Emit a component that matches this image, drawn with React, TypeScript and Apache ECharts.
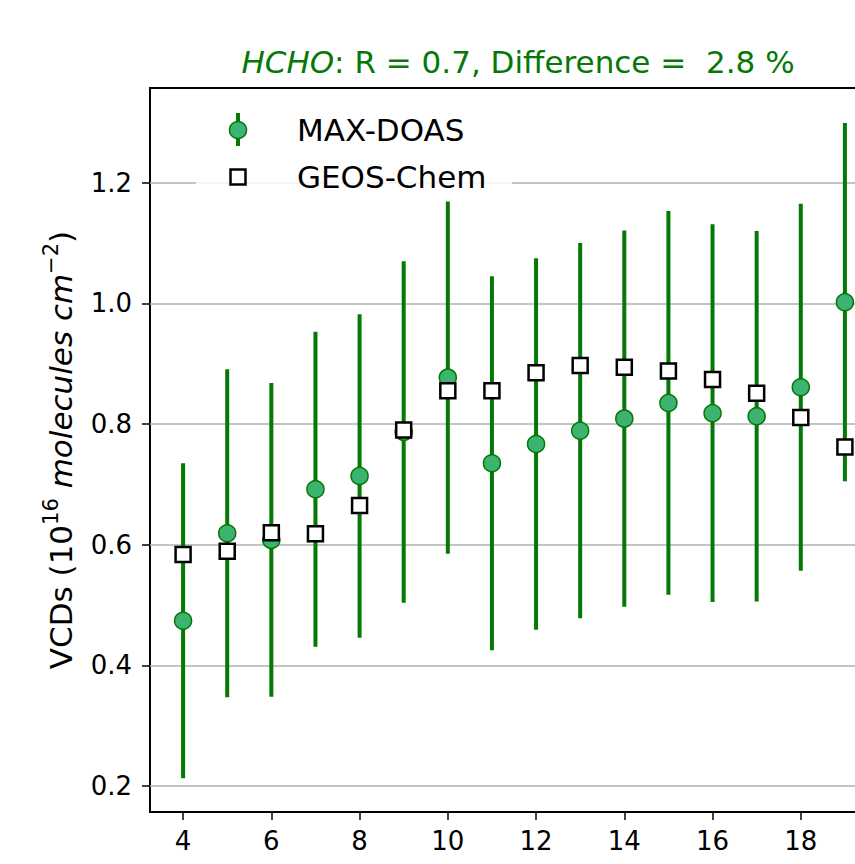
import React, { useEffect, useRef } from "react";
import * as echarts from "echarts";

// Hour of day
const hours = [4, 5, 6, 7, 8, 9, 10, 11, 12, 13, 14, 15, 16, 17, 18, 19];
// MAX-DOAS HCHO VCD means and standard deviations (10^16 molecules cm^-2)
const maxDoasMean = [0.474, 0.619, 0.608, 0.692, 0.714, 0.787, 0.877, 0.735, 0.767, 0.789, 0.809, 0.835, 0.818, 0.813, 0.861, 1.002];
const maxDoasStd = [0.261, 0.272, 0.26, 0.261, 0.268, 0.283, 0.292, 0.31, 0.308, 0.311, 0.312, 0.318, 0.313, 0.307, 0.304, 0.297];
// GEOS-Chem simulated HCHO VCDs
const geosChem = [0.584, 0.589, 0.62, 0.618, 0.665, 0.79, 0.855, 0.855, 0.885, 0.897, 0.894, 0.888, 0.874, 0.851, 0.811, 0.762];

const xTicks = [4, 6, 8, 10, 12, 14, 16, 18];
const yTicks = [0.2, 0.4, 0.6, 0.8, 1.0, 1.2];

const FONT = "DejaVu Sans";
const GREEN = "#057805";
const FILL = "#3cb371";

export default function App() {
  const ref = useRef<HTMLDivElement>(null);

  useEffect(() => {
    const chart = echarts.init(ref.current!, null, { renderer: "svg" });

    const errorData = hours.map((h, i) => [h, maxDoasMean[i] - maxDoasStd[i], maxDoasMean[i] + maxDoasStd[i]]);

    const option: any = {
      animation: false,
      backgroundColor: "#fff",
      textStyle: { fontFamily: FONT },
      title: {
        text: "{it|HCHO}{n|: R = 0.7, Difference = \u00a02.8 %}",
        left: 513,
        top: 41,
        textAlign: "center",
        textStyle: {
          fontFamily: FONT,
          fontSize: 31,
          fontWeight: "normal",
          color: GREEN,
          rich: {
            it: { fontFamily: FONT, fontSize: 31, fontStyle: "italic", color: GREEN },
            n: { fontFamily: FONT, fontSize: 31, color: GREEN },
          },
        },
      },
      grid: {
        left: 150,
        right: 2,
        top: 88,
        bottom: 52,
        show: true,
        borderColor: "#000",
        borderWidth: 1.8,
        backgroundColor: "transparent",
      },
      xAxis: {
        type: "value",
        min: 3.25,
        max: 19.75,
        axisLine: { show: true, lineStyle: { color: "#000", width: 1.8 } },
        axisTick: { show: true, length: 8, customValues: xTicks, lineStyle: { color: "#000", width: 1.5 } },
        axisLabel: {
          customValues: xTicks,
          fontSize: 26,
          fontFamily: FONT,
          color: "#000",
          margin: 16,
        },
        splitLine: { show: false },
      },
      yAxis: {
        type: "value",
        min: 0.157,
        max: 1.357,
        name: "{n|VCDs (10}{s|16}{i| molecules cm}{s|\u22122}{n|)}",
        nameLocation: "middle",
        nameRotate: 90,
        nameGap: 68,
        nameTextStyle: {
          fontFamily: FONT,
          fontSize: 31,
          color: "#000",
          rich: {
            n: { fontFamily: FONT, fontSize: 31, lineHeight: 42, color: "#000" },
            i: { fontFamily: FONT, fontSize: 31, lineHeight: 42, fontStyle: "italic", color: "#000" },
            s: { fontFamily: FONT, fontSize: 21, lineHeight: 10, verticalAlign: "top", color: "#000" },
          },
        },
        axisLine: { show: true, lineStyle: { color: "#000", width: 1.8 } },
        axisTick: { show: true, length: 8, customValues: yTicks, lineStyle: { color: "#000", width: 1.5 } },
        axisLabel: {
          customValues: yTicks,
          formatter: (v: number) => v.toFixed(1),
          fontSize: 26,
          fontFamily: FONT,
          color: "#000",
          margin: 18,
        },
        splitLine: { show: false },
      },
      series: [
        {
          name: "MAX-DOAS error",
          type: "custom",
          z: 2,
          data: errorData,
          encode: { x: 0, y: [1, 2] },
          renderItem: (_params: any, api: any) => {
            const x = api.value(0);
            const p1 = api.coord([x, api.value(1)]);
            const p2 = api.coord([x, api.value(2)]);
            return {
              type: "line",
              shape: { x1: p1[0], y1: p1[1], x2: p2[0], y2: p2[1] },
              style: { stroke: GREEN, lineWidth: 4 },
            };
          },
        },
        {
          name: "MAX-DOAS",
          type: "scatter",
          z: 3,
          symbol: "circle",
          symbolSize: 17,
          itemStyle: { color: FILL, borderColor: GREEN, borderWidth: 1.5, opacity: 1 },
          data: hours.map((h, i) => [h, maxDoasMean[i]]),
        },
        {
          name: "GEOS-Chem",
          type: "scatter",
          z: 4,
          symbol: "rect",
          symbolSize: 15,
          itemStyle: { color: "#fff", borderColor: "#000", borderWidth: 2.5, opacity: 1 },
          data: hours.map((h, i) => [h, geosChem[i]]),
          markLine: {
            silent: true,
            z: 1,
            symbol: "none",
            label: { show: false },
            lineStyle: { color: "#b0b0b0", width: 1.5, type: "solid" },
            data: yTicks.map((v) => ({ yAxis: v })),
          },
        },
      ],
      graphic: [
        {
          type: "rect",
          z: 100,
          shape: { x: 196, y: 100, width: 316, height: 100, r: 6 },
          style: { fill: "#fff", opacity: 0.85 },
        },
        {
          type: "line",
          z: 101,
          shape: { x1: 238, y1: 113, x2: 238, y2: 146 },
          style: { stroke: GREEN, lineWidth: 4 },
        },
        {
          type: "circle",
          z: 102,
          shape: { cx: 238, cy: 130, r: 8.5 },
          style: { fill: FILL, stroke: GREEN, lineWidth: 1.5 },
        },
        {
          type: "rect",
          z: 102,
          shape: { x: 230.5, y: 169.5, width: 15, height: 15 },
          style: { fill: "#fff", stroke: "#000", lineWidth: 2.5 },
        },
        {
          type: "text",
          z: 102,
          x: 297,
          y: 130,
          style: { text: "MAX-DOAS", fontFamily: FONT, fontSize: 31, fill: "#000", textVerticalAlign: "middle" },
        },
        {
          type: "text",
          z: 102,
          x: 297,
          y: 177,
          style: { text: "GEOS-Chem", fontFamily: FONT, fontSize: 31, fill: "#000", textVerticalAlign: "middle" },
        },
      ],
    };

    chart.setOption(option);
    return () => chart.dispose();
  }, []);

  // The plot area runs past the right edge of the window, so the right spine stays out of view.
  return (
    <div
      ref={ref}
      style={{ position: "fixed", left: 0, top: 0, width: 880, height: 864, background: "#fff" }}
    />
  );
}
